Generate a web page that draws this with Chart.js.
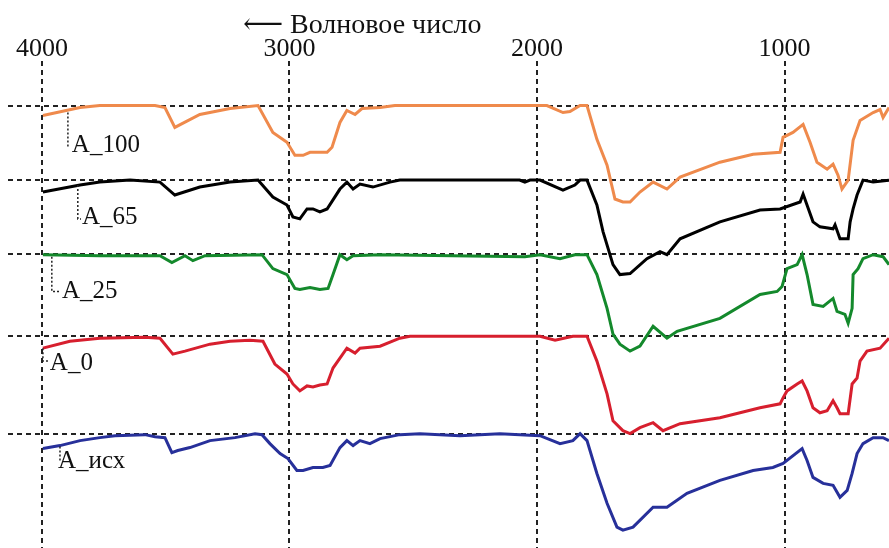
<!DOCTYPE html>
<html>
<head>
<meta charset="utf-8">
<script src="https://cdn.jsdelivr.net/npm/chart.js@4/dist/chart.umd.min.js"></script>
<style>
  html, body { margin: 0; padding: 0; background: #fff; }
  #wrap { width: 889px; height: 548px; }
</style>
</head>
<body>
<div id="wrap"><canvas id="chart" width="889" height="548"></canvas></div>
<script>
"use strict";

// IR spectra, stacked with offsets. Values are transmittance-like units, 100 = baseline.

const seriesNames = ["A_100", "A_65", "A_25", "A_0", "A_исх"];
const seriesColors = ["#ef8a4c", "#000000", "#14892c", "#d71f2e", "#27309a"];
const seriesOffsets = [345, 270, 196, 113, 15];

const tickValues = [4000, 3000, 2000, 1000];
const axisTitle = "⟵ Волновое число";

const wnA100 = [3996, 3846, 3766, 3543, 3503, 3463, 3362, 3240, 3127, 3067, 3010, 2978, 2945, 2917, 2848, 2828, 2796, 2768, 2735, 2707, 2634, 2574, 1960, 1895, 1867, 1826, 1798, 1758, 1717, 1685, 1653, 1624, 1584, 1531, 1475, 1422, 1261, 1127, 1018, 1006, 966, 925, 897, 869, 828, 804, 784, 768, 743, 723, 695, 642, 614, 602, 578];
const tA100 = [90, 98, 100, 100, 98, 78, 91, 97, 100, 73, 63, 50, 50, 53, 53, 58, 83, 95, 91, 97, 98, 100, 100, 93, 94, 100, 100, 66, 40, 6, 3, 3, 13, 23, 16, 28, 43, 51, 53, 68, 73, 81, 63, 43, 36, 41, 30, 16, 25, 65, 85, 93, 96, 88, 98];

const wnA65 = [3996, 3846, 3766, 3644, 3523, 3463, 3362, 3240, 3127, 3067, 3010, 2986, 2958, 2929, 2905, 2877, 2848, 2796, 2768, 2743, 2715, 2663, 2594, 2554, 2070, 2049, 2028, 1988, 1895, 1847, 1826, 1798, 1758, 1733, 1693, 1665, 1624, 1556, 1503, 1475, 1422, 1261, 1099, 1018, 937, 925, 885, 857, 804, 796, 776, 743, 735, 723, 707, 683, 642, 578];
const tA65 = [88, 95, 98, 100, 98, 85, 93, 98, 100, 83, 75, 63, 61, 71, 71, 68, 71, 91, 98, 91, 96, 93, 98, 100, 100, 98, 100, 100, 90, 95, 100, 100, 75, 48, 15, 5, 6, 21, 28, 25, 41, 58, 70, 71, 78, 86, 58, 53, 51, 55, 41, 41, 58, 71, 85, 100, 98, 100];

const wnA25 = [3996, 3766, 3523, 3475, 3422, 3390, 3341, 3111, 3067, 3010, 2978, 2958, 2917, 2877, 2844, 2824, 2796, 2768, 2743, 2634, 2049, 1988, 1907, 1847, 1798, 1758, 1717, 1693, 1665, 1624, 1584, 1531, 1475, 1434, 1261, 1099, 1030, 1010, 990, 949, 929, 909, 885, 844, 804, 788, 756, 743, 727, 723, 703, 683, 642, 602, 578];
const tA25 = [99, 98, 98, 91, 98, 93, 98, 99, 85, 79, 65, 64, 66, 64, 65, 79, 99, 94, 98, 99, 97, 99, 95, 99, 99, 79, 45, 19, 9, 2, 7, 27, 15, 22, 35, 59, 62, 67, 85, 89, 99, 79, 49, 47, 55, 42, 39, 30, 45, 79, 85, 95, 99, 97, 89];

const wnA0 = [3996, 3887, 3766, 3584, 3523, 3471, 3422, 3321, 3240, 3160, 3107, 3059, 3010, 2986, 2958, 2929, 2905, 2877, 2848, 2824, 2768, 2735, 2715, 2634, 2554, 2513, 1988, 1927, 1855, 1798, 1758, 1717, 1693, 1653, 1624, 1584, 1531, 1491, 1422, 1261, 1099, 1018, 1006, 990, 949, 929, 909, 885, 857, 828, 804, 788, 776, 743, 727, 707, 695, 667, 614, 578];
const tA0 = [88, 95, 98, 99, 98, 82, 85, 92, 95, 96, 95, 72, 62, 52, 45, 50, 49, 51, 52, 68, 88, 83, 88, 90, 98, 100, 100, 96, 100, 100, 75, 42, 15, 5, 2, 8, 13, 5, 12, 18, 28, 32, 38, 45, 52, 55, 45, 28, 23, 25, 35, 28, 22, 22, 52, 58, 75, 85, 88, 98];

const wnAisx = [3996, 3927, 3846, 3766, 3705, 3584, 3543, 3503, 3475, 3451, 3402, 3321, 3220, 3139, 3111, 3079, 3038, 3006, 2970, 2945, 2905, 2865, 2836, 2796, 2768, 2743, 2715, 2675, 2634, 2554, 2473, 2311, 2150, 1988, 1907, 1855, 1826, 1798, 1758, 1717, 1677, 1653, 1612, 1531, 1475, 1394, 1261, 1127, 1047, 1006, 929, 909, 885, 844, 804, 776, 747, 727, 707, 683, 642, 602, 578];
const tAisx = [85, 88, 93, 96, 98, 99, 97, 96, 81, 83, 86, 93, 96, 100, 99, 90, 80, 75, 63, 63, 66, 66, 68, 86, 93, 88, 93, 90, 95, 99, 100, 98, 100, 98, 90, 93, 100, 93, 60, 30, 6, 3, 6, 26, 26, 40, 53, 63, 66, 70, 85, 73, 56, 50, 48, 36, 43, 60, 80, 90, 96, 96, 93];

const seriesWn = [wnA100, wnA65, wnA25, wnA0, wnAisx];
const seriesT = [tA100, tA65, tA25, tA0, tAisx];

// curve labels with dotted leaders (wavenumber / T units of each series)
const leaderWn = [3895, 3855, 3960, 3996, 3927];
const leaderFromT = [93, 95, 97, 88, 87];
const leaderToT = [58, 61, 62, 75, 73];
const labelWn = [3879, 3838, 3919, 3968, 3935];
const labelT = [60, 62, 62, 73, 72];
const titleWn = 3188;

const FONT = '"Liberation Serif", "DejaVu Serif", serif';

const datasets = seriesNames.map((name, i) => ({
  label: name,
  data: seriesWn[i].map((wn, k) => ({ x: wn, y: seriesT[i][k] + seriesOffsets[i] })),
  borderColor: seriesColors[i],
  borderWidth: 3,
  pointRadius: 0,
  tension: 0,
  fill: false,
}));

const labelsPlugin = {
  id: "curveLabels",
  afterDatasetsDraw(chart) {
    const { ctx, scales: { x, y }, chartArea } = chart;
    ctx.save();
    ctx.strokeStyle = "#222";
    ctx.lineWidth = 1.5;
    ctx.setLineDash([2, 2]);
    ctx.fillStyle = "#111";
    ctx.font = `25px ${FONT}`;
    ctx.textBaseline = "middle";
    ctx.textAlign = "left";
    seriesNames.forEach((name, i) => {
      const off = seriesOffsets[i];
      const lx = x.getPixelForValue(leaderWn[i]);
      const y0 = y.getPixelForValue(leaderFromT[i] + off);
      const y1 = y.getPixelForValue(leaderToT[i] + off);
      const tx = x.getPixelForValue(labelWn[i]);
      ctx.beginPath();
      ctx.moveTo(lx, y0);
      ctx.lineTo(lx, y1);
      if (tx > lx + 4) ctx.lineTo(tx - 1, y1);
      ctx.stroke();
      ctx.fillText(name, tx, y.getPixelForValue(labelT[i] + off));
    });
    // axis title above the tick labels
    ctx.setLineDash([]);
    ctx.textBaseline = "alphabetic";
    ctx.font = `28px ${FONT}`;
    ctx.fillText(axisTitle, x.getPixelForValue(titleWn), chartArea.top - 28);
    ctx.restore();
  },
};

new Chart(document.getElementById("chart"), {
  type: "line",
  data: { datasets },
  plugins: [labelsPlugin],
  options: {
    responsive: false,
    animation: false,
    layout: { padding: { left: 8, right: 0, top: 38, bottom: 0 } },
    plugins: { legend: { display: false }, tooltip: { enabled: false } },
    scales: {
      x: {
        type: "linear",
        position: "top",
        reverse: true,
        min: 578,
        max: 4137,
        afterBuildTicks: (s) => { s.ticks = tickValues.map(v => ({ value: v })); },
        ticks: {
          color: "#111",
          font: { family: FONT, size: 26, lineHeight: 0.8 },
          padding: 1,
          maxRotation: 0,
          callback: (v) => String(v),
        },
        border: { display: false, dash: [5, 4] },
        grid: { color: "#222", lineWidth: 2, drawTicks: false },
      },
      y: {
        type: "linear",
        min: 0,
        max: 490,
        afterBuildTicks: (s) => { s.ticks = seriesOffsets.map(o => ({ value: o + 100 })); },
        ticks: { display: false },
        border: { display: false, dash: [5, 4] },
        grid: { color: "#222", lineWidth: 2, drawTicks: false },
      },
    },
  },
});
</script>
</body>
</html>
